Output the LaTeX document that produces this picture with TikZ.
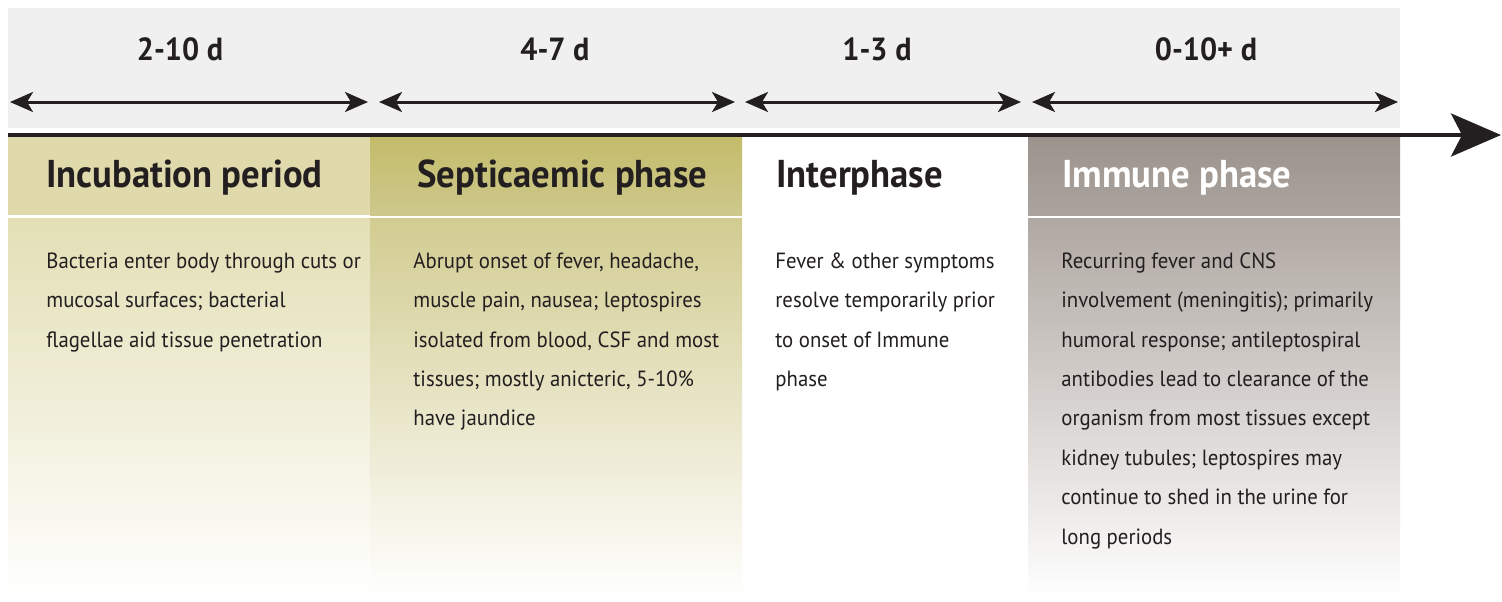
\documentclass[tikz,border=0pt]{standalone}
\usepackage{fontspec}
\setmainfont{PT Sans}[FakeStretch=0.945]
\usetikzlibrary{arrows.meta}
\definecolor{bandgray}{HTML}{EFF0EF}
\definecolor{incubhead}{HTML}{DFD9AB}
\definecolor{incubbody}{HTML}{E3DFB5}
\definecolor{septtop}{HTML}{C3BC6A}
\definecolor{septhead}{HTML}{CEC88D}
\definecolor{septbody}{HTML}{D2CC91}
\definecolor{immunetop}{HTML}{9C938D}
\definecolor{immunehead}{HTML}{ABA39D}
\definecolor{immunebody}{HTML}{B0A8A2}
\definecolor{inkdark}{HTML}{231F20}

\begin{document}
\begin{tikzpicture}[x=0.5pt, y=-0.5pt,
    span/.style={{Stealth[length=11.5pt, width=10pt, inset=3pt]}-{Stealth[length=11.5pt, width=10pt, inset=3pt]}, line width=1.5pt, inkdark},
    duration/.style={anchor=base, inner sep=0pt, text=inkdark, font=\bfseries\fontsize{16}{18}\selectfont},
    phase/.style={anchor=base west, inner sep=0pt, text=inkdark, font=\bfseries\fontsize{19.4}{22}\selectfont},
    detail/.style={anchor=north west, inner sep=0pt, align=left, text=inkdark, font=\fontsize{11}{19.7}\selectfont}]
    \useasboundingbox [fill=white] (0,0) rectangle (1502,601);

    % backgrounds
    \fill [bandgray] (8,8) rectangle (1400,128);
    \fill [incubhead] (8,137) rectangle (370,215);
    \shade [top color=incubbody, bottom color=white] (8,218) rectangle (370,598);
    \shade [top color=septtop, bottom color=septhead] (370,137) rectangle (742,215);
    \shade [top color=septbody, bottom color=white] (370,218) rectangle (742,598);
    \shade [top color=immunetop, bottom color=immunehead] (1028,137) rectangle (1400,215);
    \shade [top color=immunebody, bottom color=white] (1028,218) rectangle (1400,598);

    % durations
    \coordinate (s1) at (10,102);   \coordinate (e1) at (368,102);
    \coordinate (s2) at (379,102);  \coordinate (e2) at (735,102);
    \coordinate (s3) at (745,102);  \coordinate (e3) at (1021,102);
    \coordinate (s4) at (1032,102); \coordinate (e4) at (1398,102);
    \node [duration] (d1) at (180,60) {2-10 d};
    \node [duration] (d2) at (555,60) {4-7 d};
    \node [duration] (d3) at (877,60) {1-3 d};
    \node [duration] (d4) at (1206,60) {0-10+ d};
    \begin{scope}[span]
        \draw (s1) -- (e1);
        \draw (s2) -- (e2);
        \draw (s3) -- (e3);
        \draw (s4) -- (e4);
    \end{scope}

    % time axis
    \coordinate (t0) at (8,135);
    \coordinate (t1) at (1501,135);
    \draw [line width=2pt, inkdark, -{Stealth[length=25pt, width=21.5pt, inset=5.5pt]}] (t0) -- (t1);

    % phases
    \node [phase] (p1) at (46,187) {Incubation period};
    \node [phase] (p2) at (417,187) {Septicaemic phase};
    \node [phase] (p3) at (776,187) {Interphase};
    \node [phase, text=white] (p4) at (1062,187) {Immune phase};

    % first baseline near 268, strut height 0.7*19.7pt
    \node [detail] (b1) at (46,240.4) {\strut Bacteria enter body through cuts or\\ mucosal surfaces; bacterial\\ flagellae aid tissue penetration};
    \node [detail] (b2) at (413,240.4) {\strut Abrupt onset of fever, headache,\\ muscle pain, nausea; leptospires\\ isolated from blood, CSF and most\\ tissues; mostly anicteric, 5-10\%\\ have jaundice};
    \node [detail] (b3) at (775,240.4) {\strut Fever \& other symptoms\\ resolve temporarily prior\\ to onset of Immune\\ phase};
    \node [detail] (b4) at (1061,240.4) {\strut Recurring fever and CNS\\ involvement (meningitis); primarily\\ humoral response; antileptospiral\\ antibodies lead to clearance of the\\ organism from most tissues except\\ kidney tubules; leptospires may\\ continue to shed in the urine for\\ long periods};
\end{tikzpicture}
\end{document}
